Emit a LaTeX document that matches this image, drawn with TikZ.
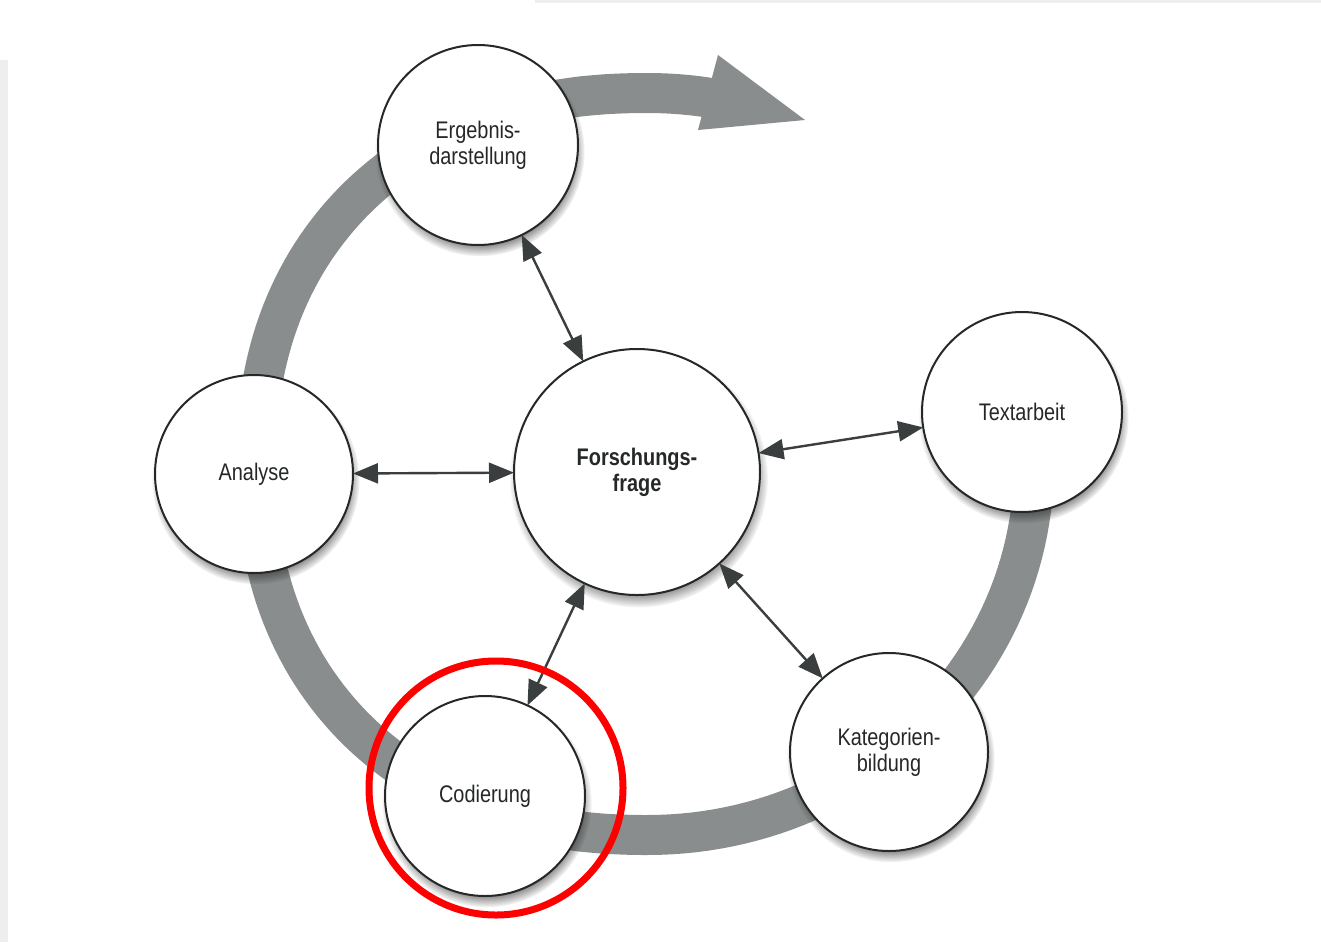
\documentclass[tikz,border=0pt]{standalone}
\usepackage{fontspec}
\setmainfont{Liberation Sans}[FakeStretch=0.83]
\usetikzlibrary{arrows.meta,shadows}
\definecolor{bandgray}{RGB}{138,141,141}
\definecolor{ink}{RGB}{38,40,40}
\definecolor{arrowgray}{RGB}{58,62,62}
\definecolor{edgegray}{RGB}{238,238,238}
\begin{document}
\begin{tikzpicture}[x=0.5pt,y=-0.5pt,
  stage/.style={circle, draw=ink, line width=1pt, fill=white, minimum size=100pt,
    inner sep=0pt, outer sep=0pt, align=center, text=ink,
    font=\fontsize{12}{13}\selectfont,
    circular drop shadow={shadow xshift=0.8pt, shadow yshift=-3pt, shadow scale=1.05, opacity=0.7, fill=black!85}},
  link/.style={{Triangle[length=12.5pt,width=10pt]}-{Triangle[length=12.5pt,width=10pt]},
    line width=1.2pt, draw=arrowgray}]
\useasboundingbox (0,0) rectangle (1321,942);
\fill[white] (0,0) rectangle (1321,942);
\fill[edgegray] (0,60) rectangle (8,942);
\fill[edgegray] (535,0) rectangle (1321,3);

% thick process band
\draw[bandgray, line width=20pt, line cap=butt, line join=round]
  plot[domain=-12:90, samples=60] ({648+386*cos(\x)},{464+371*sin(\x)})
  -- plot[domain=90.5:269.5, samples=120]
     ({648-392*abs(cos(\x))^(0.909)},{464+371*sign(sin(\x))*abs(sin(\x))^(0.909)})
  -- plot[domain=270:280.5, samples=10] ({648+386*cos(\x)},{464+371*sin(\x)});
\fill[bandgray] (718,55) -- (805,120) -- (698,130) -- cycle;

% stages
\node[stage] (erg) at (478,145) {Ergebnis-\\darstellung};
\node[stage, minimum size=99pt] (ana) at (254,474) {Analyse};
\node[stage] (txt) at (1022,412) {Textarbeit};
\node[stage] (cod) at (485,796) {Codierung};
\node[stage, minimum size=99pt] (kat) at (889,752) {Kategorien-\\bildung};
\node[stage, minimum size=123pt, font=\fontsize{12}{13}\selectfont\bfseries] (fra) at (637,472) {Forschungs-\\frage};

% connectors
\draw[link] (erg) -- (fra);
\draw[link] (ana) -- (fra);
\draw[link] (fra) -- (txt);
\draw[link] (fra) -- (cod);
\draw[link] (fra) -- (kat);

% highlight
\node[circle, draw=red, line width=3.5pt, minimum size=127pt, inner sep=0pt] (mark) at (496,788) {};
\end{tikzpicture}
\end{document}
